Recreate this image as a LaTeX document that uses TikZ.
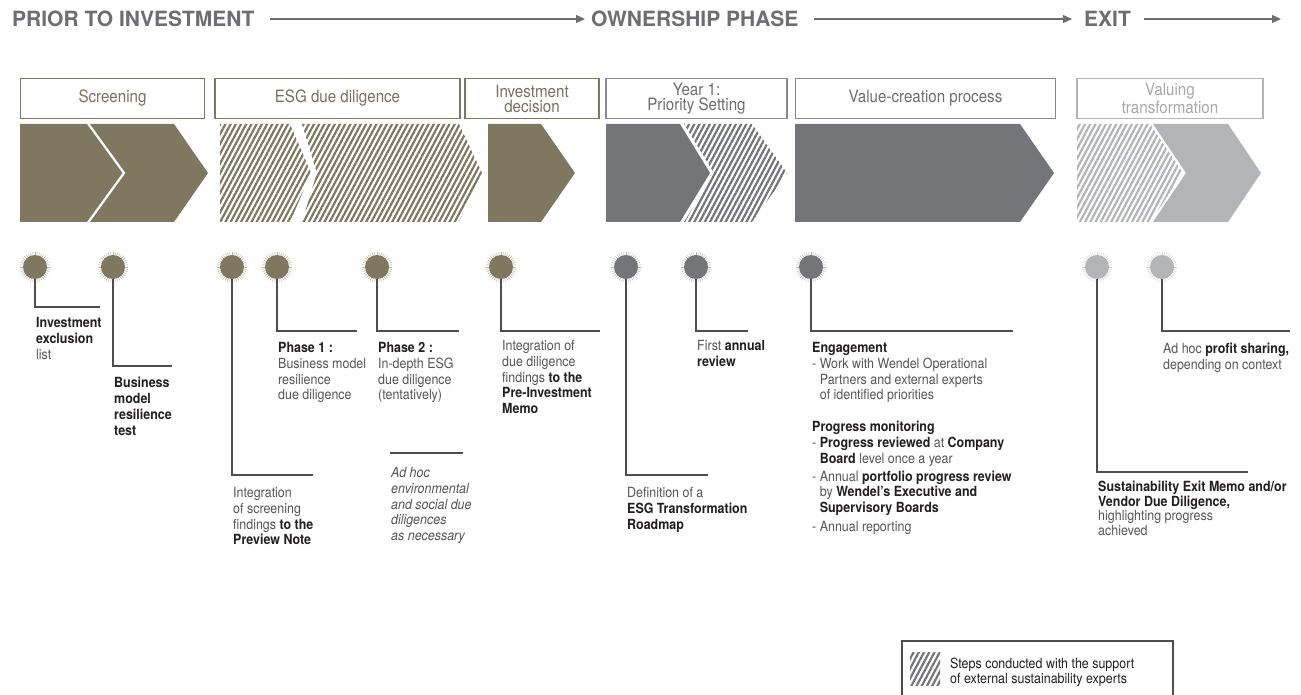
\documentclass[tikz,border=0pt]{standalone}
\usepackage{fontspec}
\setmainfont{TeX Gyre Heros}[FakeStretch=0.89]
\newfontfamily\hdrfont{TeX Gyre Heros}
\usetikzlibrary{arrows.meta,patterns.meta}
\definecolor{cOlive}{HTML}{7F7760}
\definecolor{cOliveT}{HTML}{77715F}
\definecolor{cGray}{HTML}{747579}
\definecolor{cGrayT}{HTML}{6D6E71}
\definecolor{cLight}{HTML}{B3B4B6}
\definecolor{cLightT}{HTML}{A7A9AC}
\definecolor{cHdr}{HTML}{6D6E71}
\definecolor{cTxt}{HTML}{555658}
\definecolor{cDark}{HTML}{231F20}
\definecolor{cLine}{HTML}{4D4D4F}
\newcommand\mybf[1]{{\bfseries\color{cDark}#1}}
\newcommand\sunc[4]{%
  \foreach \a in {0,9,...,351}{\draw[#4,line width=0.45pt] (#2,267) ++(\a:11.6pt) -- ++(\a:3.4pt);}
  \node[circle,fill=#3,inner sep=0pt,minimum size=24pt] (#1) at (#2,267) {};
}
\begin{document}
\begin{tikzpicture}[x=1pt,y=-1pt,
  hdr/.style={font=\hdrfont\bfseries\fontsize{21}{21}\selectfont, text=cHdr, inner sep=0pt, anchor=west},
  harrow/.style={draw=cHdr, line width=1.1pt, -{Triangle[length=9pt,width=8pt]}},
  tbox/.style={draw, rectangle, line width=1.3pt, inner sep=0pt, align=center, font=\fontsize{17}{15}\selectfont, minimum height=40pt},
  hatch/.style={pattern={Lines[angle=62,distance=4.6pt,line width=2.2pt]}, pattern color=#1},
  conn/.style={draw=cLine, line width=1.1pt},
  txt/.style={anchor=north west, inner sep=0pt, align=left, font=\fontsize{14}{15.8}\selectfont, text=cTxt},
]
\useasboundingbox[fill=white] (0,0) rectangle (1301,695);

% header
\node[hdr] (h1) at (12,19) {PRIOR TO INVESTMENT};
\node[hdr] (h2) at (591,19) {OWNERSHIP PHASE};
\node[hdr] (h3) at (1084,19) {EXIT};
\coordinate (hend) at (1281,19);
\draw[harrow] ([xshift=15pt]h1.east) -- ([xshift=-6pt]h2.west);
\draw[harrow] ([xshift=15pt]h2.east) -- ([xshift=-12pt]h3.west);
\draw[harrow] ([xshift=13pt]h3.east) -- (hend);

% title boxes
\node[tbox, draw=cOlive, text=cOliveT, minimum width=184pt] (b1) at (112.5,98.5) {Screening};
\node[tbox, draw=cOlive, text=cOliveT, minimum width=245pt] (b2) at (337.5,98.5) {ESG due diligence};
\node[tbox, draw=cOlive, text=cOliveT, minimum width=134pt] (b3) at (532,98.5) {Investment\\decision};
\node[tbox, draw=cGray!85, text=cGrayT, minimum width=181pt] (b4) at (696.5,98.5) {Year 1:\\Priority Setting};
\node[tbox, draw=cGray!85, text=cGrayT, minimum width=260pt] (b5) at (925.5,98.5) {Value-creation process};
\node[tbox, draw=cLight, text=cLightT, minimum width=186pt] (b6) at (1170,98.5) {Valuing\\transformation};

% chevrons
\fill[cOlive] (20,124) -- (174,124) -- (208,173) -- (174,222) -- (20,222) -- cycle;
\draw[white, line width=2.2pt] (87,122) -- (124,173) -- (87,224);
\path[hatch=cOlive] (220,124) -- (290,124) -- (311,173) -- (290,222) -- (220,222) -- cycle;
\path[hatch=cOlive] (302,124) -- (459,124) -- (482,173) -- (459,222) -- (302,222) -- (317,173) -- cycle;
\fill[cOlive] (488,124) -- (541,124) -- (575,173) -- (541,222) -- (488,222) -- cycle;
\fill[cGray] (606,124) -- (680,124) -- (710,173) -- (680,222) -- (606,222) -- cycle;
\path[hatch=cGray] (684,124) -- (752,124) -- (787,173) -- (752,222) -- (684,222) -- (714,173) -- cycle;
\fill[cGray] (795,124) -- (1020,124) -- (1054,173) -- (1020,222) -- (795,222) -- cycle;
\path[hatch=cLight] (1077,124) -- (1150,124) -- (1183,173) -- (1150,222) -- (1077,222) -- cycle;
\fill[cLight] (1153,124) -- (1228,124) -- (1261,173) -- (1228,222) -- (1153,222) -- (1186,173) -- cycle;

% circles
\sunc{c1}{35}{cOlive}{cOlive!55}
\sunc{c2}{113}{cOlive}{cOlive!55}
\sunc{c3}{232}{cOlive}{cOlive!55}
\sunc{c4}{277}{cOlive}{cOlive!55}
\sunc{c5}{377}{cOlive}{cOlive!55}
\sunc{c6}{501}{cOlive}{cOlive!55}
\sunc{c7}{626}{cGray}{cGray!50}
\sunc{c8}{696}{cGray}{cGray!50}
\sunc{c9}{811}{cGray}{cGray!50}
\sunc{c10}{1097}{cLight}{cLight!60}
\sunc{c11}{1162}{cLight}{cLight!60}

% connector ends
\coordinate (e1) at (100,307);
\coordinate (e2) at (172,366);
\coordinate (e3) at (313,475);
\coordinate (e4) at (357,331);
\coordinate (e5) at (459,331);
\coordinate (e6) at (600,331);
\coordinate (e7) at (708,475);
\coordinate (e8) at (748,331);
\coordinate (e9) at (1013,331);
\coordinate (e10) at (1248,472);
\coordinate (e11) at (1290,331);
\coordinate (a1) at (390,453);
\coordinate (a2) at (463,453);

\draw[conn] (c1.south) |- (e1);
\draw[conn] (c2.south) |- (e2);
\draw[conn] (c3.south) |- (e3);
\draw[conn] (c4.south) |- (e4);
\draw[conn] (c5.south) |- (e5);
\draw[conn] (c6.south) |- (e6);
\draw[conn] (c7.south) |- (e7);
\draw[conn] (c8.south) |- (e8);
\draw[conn] (c9.south) |- (e9);
\draw[conn] (c10.south) |- (e10);
\draw[conn] (c11.south) |- (e11);
\draw[conn] (a1) -- (a2);

% texts
\node[txt] (t1) at (36,317) {\mybf{Investment}\\\mybf{exclusion}\\list};
\node[txt] (t2) at (114,377) {\mybf{Business}\\\mybf{model}\\\mybf{resilience}\\\mybf{test}};
\node[txt] (t3) at (233,487) {Integration\\of screening\\findings \mybf{to the}\\\mybf{Preview Note}};
\node[txt] (t4) at (278,342) {\mybf{Phase 1 :}\\Business model\\resilience\\due diligence};
\node[txt] (t5) at (378,342) {\mybf{Phase 2 :}\\In-depth ESG\\due diligence\\(tentatively)};
\node[txt, font=\itshape\fontsize{14}{15.8}\selectfont] (t6) at (391,467) {Ad hoc\\environmental\\and social due\\diligences\\as necessary};
\node[txt] (t7) at (502,340) {Integration of\\due diligence\\findings \mybf{to the}\\\mybf{Pre-Investment}\\\mybf{Memo}};
\node[txt] (t8) at (627,487) {Definition of a\\\mybf{ESG Transformation}\\\mybf{Roadmap}};
\node[txt] (t9) at (697,340) {First \mybf{annual}\\\mybf{review}};
\node[txt] (t10) at (812,342) {\mybf{Engagement}\\- Work with Wendel Operational\\\hphantom{- }Partners and external experts\\\hphantom{- }of identified priorities\\[16pt]\mybf{Progress monitoring}\\- \mybf{Progress reviewed} at \mybf{Company}\\\hphantom{- }\mybf{Board} level once a year\\[2pt]- Annual \mybf{portfolio progress review}\\\hphantom{- }by \mybf{Wendel’s Executive and}\\\hphantom{- }\mybf{Supervisory Boards}\\[3pt]- Annual reporting};
\node[txt, font=\fontsize{14}{14.5}\selectfont] (t11) at (1098,481) {\mybf{Sustainability Exit Memo and/or}\\\mybf{Vendor Due Diligence,}\\highlighting progress\\achieved};
\node[txt] (t12) at (1163,343) {Ad hoc \mybf{profit sharing,}\\depending on context};

% legend
\draw[cLine, line width=1.1pt] (902,641) rectangle (1173,698);
\path[hatch=cGray] (910,652) rectangle (940,685);
\node[txt, text=cDark, font=\fontsize{14}{15}\selectfont] (leg) at (950,658) {Steps conducted with the support\\of external sustainability experts};
\end{tikzpicture}
\end{document}
